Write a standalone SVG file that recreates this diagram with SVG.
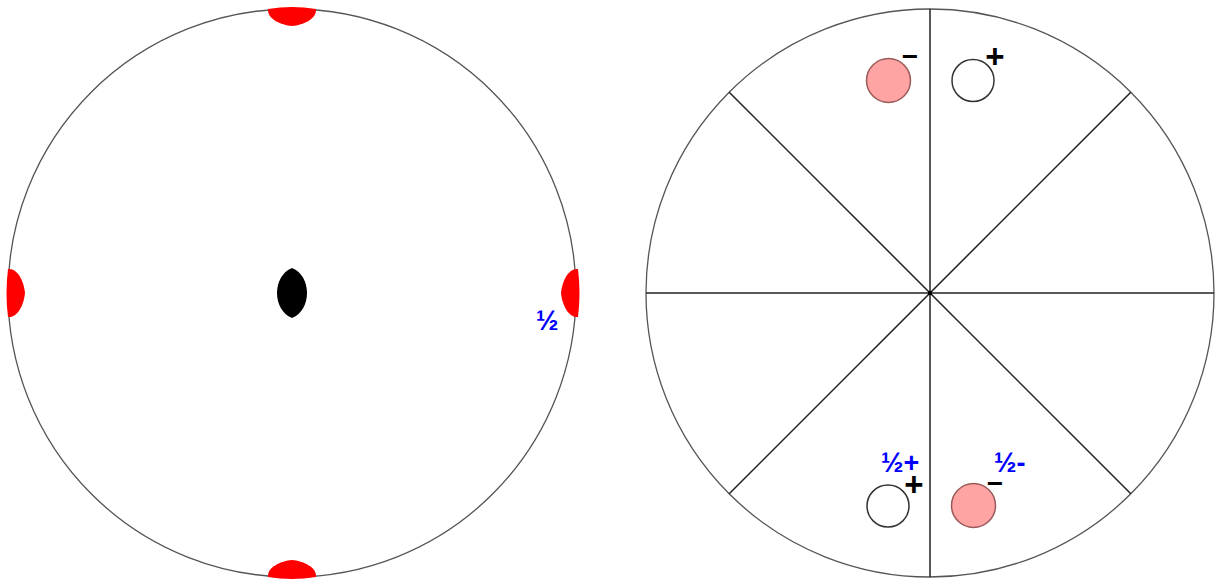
<svg xmlns="http://www.w3.org/2000/svg" width="1225" height="586" viewBox="0 0 1225 586">
<style>
.outer{fill:none;stroke:#555;stroke-width:1.3}
.ln{stroke:#222;stroke-width:1.5}
.red{fill:#ff0000}
.pink{fill:#ffa3a3;stroke:#9a5a5a;stroke-width:1.5}
.wht{fill:#fff;stroke:#333;stroke-width:1.5}
.frac{font-family:"Liberation Sans",Arial,sans-serif;font-weight:bold;font-size:27px;fill:#0000ff}
.sign{font-family:"Liberation Sans",Arial,sans-serif;font-weight:bold;font-size:33px;fill:#000}
.minus{font-family:"Liberation Sans",Arial,sans-serif;font-weight:bold;font-size:28px;fill:#000}
</style>
<rect width="1225" height="586" fill="#fff"/>
<g id="left-projection">
<circle class="outer" cx="292" cy="293" r="284"/>
<path id="digon-top" class="red" d="M268,9 Q292,5 316,9 C317,19 303,25 292,26 C281,25 267,19 268,9 Z"/>
<path id="digon-bottom" class="red" d="M268,577 Q292,581 316,577 C317,567 303,561 292,560 C281,561 267,567 268,577 Z"/>
<path id="digon-left" class="red" d="M8,269 Q5,293 8,317 C18,318 24,304 25,293 C24,282 18,268 8,269 Z"/>
<path id="digon-right" class="red" d="M578,269 Q581,293 578,317 C568,318 562,304 561,293 C562,282 568,268 578,269 Z"/>
<path id="center-digon" fill="#000" d="M292,268 C312,276 312,310 292,318 C272,310 272,276 292,268 Z"/>
<text class="frac" x="536" y="330">½</text>
</g>
<g id="right-projection">
<circle class="outer" cx="930" cy="293" r="284"/>
<g id="connectors">
<line class="ln" x1="930" y1="9" x2="930" y2="577"/>
<line class="ln" x1="646" y1="293" x2="1214" y2="293"/>
<line class="ln" x1="729.2" y1="92.2" x2="1130.8" y2="493.8"/>
<line class="ln" x1="1130.8" y1="92.2" x2="729.2" y2="493.8"/>
</g>
<rect x="928" y="291" width="4" height="4" fill="#000"/>
<g id="pos-top-left">
<circle class="pink" cx="888.5" cy="80.5" r="22"/>
<text class="minus" x="910" y="65.5" text-anchor="middle">−</text>
</g>
<g id="pos-top-right">
<circle class="wht" cx="973" cy="80.5" r="21"/>
<text class="sign" x="995" y="68" text-anchor="middle">+</text>
</g>
<g id="pos-bottom-left">
<circle class="wht" cx="888" cy="506" r="21"/>
<text class="sign" x="914" y="496" text-anchor="middle">+</text>
<text class="frac" x="881" y="472">½+</text>
</g>
<g id="pos-bottom-right">
<circle class="pink" cx="973.5" cy="505.5" r="22"/>
<text class="minus" x="995" y="493" text-anchor="middle">−</text>
<text class="frac" x="994" y="472">½-</text>
</g>
</g>
</svg>
